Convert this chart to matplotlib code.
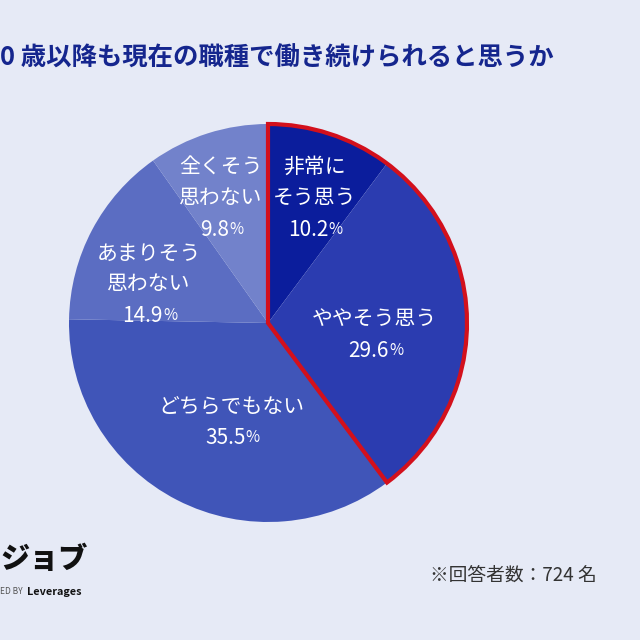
import matplotlib.pyplot as plt
from matplotlib.patches import Wedge
import numpy as np

plt.rcParams['font.family'] = ['Noto Sans CJK JP', 'DejaVu Sans']

# データ
labels = ["非常に\nそう思う", "ややそう思う", "どちらでもない", "あまりそう\n思わない", "全くそう\n思わない"]
values = [10.2, 29.6, 35.5, 14.9, 9.8]
colors = ["#0b1d9c", "#2b3cb0", "#4055b8", "#5b6dc2", "#7282cb"]
title = "0 歳以降も現在の職種で働き続けられると思うか"
note = "※回答者数：724 名"

bg = "#e6eaf6"
fig = plt.figure(figsize=(6.4, 6.4), dpi=100, facecolor=bg)
ax = fig.add_axes([0, 0, 1, 1])

cx, cy, r = 268, 317, 199
ax.pie(values, colors=colors, startangle=90, counterclock=False,
       center=(cx, cy), radius=r, frame=True,
       wedgeprops=dict(linewidth=0))
ax.set_xlim(0, 640)
ax.set_ylim(0, 640)
ax.set_aspect("equal")
ax.axis("off")

# 上位2項目（そう思う計）を赤枠で囲む
top2 = sum(values[:2])
ax.add_patch(Wedge((cx, cy), r, 90 - top2 * 3.6, 90, fill=False,
                   edgecolor="#d3101c", linewidth=3, joinstyle="miter", zorder=5))

# ラベル（ブロック中心の半径比と角度補正）
label_r = [0.67, 0.54, 0.53, 0.63, 0.67]
angle_shift = [-2, -6, 7, 10, 3]
step = 31
start = 90
for lab, v, lr, sh in zip(labels, values, label_r, angle_shift):
    mid = np.deg2rad(start - v * 3.6 / 2 + sh)
    start -= v * 3.6
    x = cx + r * lr * np.cos(mid)
    y = cy + r * lr * np.sin(mid)
    lines = lab.split("\n")
    n = len(lines) + 1
    for i, line in enumerate(lines):
        ax.text(x, y + ((n - 1) / 2 - i) * step, line, ha="center", va="center",
                color="white", fontsize=15)
    t = ax.text(x - 6, y - ((n - 1) / 2) * step - 1, f"{v:.1f}", ha="center",
                va="center", color="white", fontsize=15)
    ax.annotate("%", xy=(1, 0.14), xycoords=t, ha="left", va="bottom",
                color="white", fontsize=11)

# タイトル
fig.text(0, 1 - 58 / 640, title, ha="left", va="center",
         color="#15268e", fontsize=18.3, fontweight="bold")

# 注記
fig.text(430 / 640, 1 - 575 / 640, note, ha="left", va="center",
         color="#333333", fontsize=13.5)

# ロゴ
fig.text(0, 1 - 559 / 640, "ジョブ", ha="left", va="center",
         color="#111111", fontsize=21, fontweight="black", style="italic")
fig.text(0, 1 - 592 / 640, "ED BY", ha="left", va="center",
         color="#555555", fontsize=6)
fig.text(27 / 640, 1 - 592 / 640, "Leverages", ha="left", va="center",
         color="#111111", fontsize=7.8, fontweight="bold")

plt.savefig("out.png", dpi=100, facecolor=bg)
